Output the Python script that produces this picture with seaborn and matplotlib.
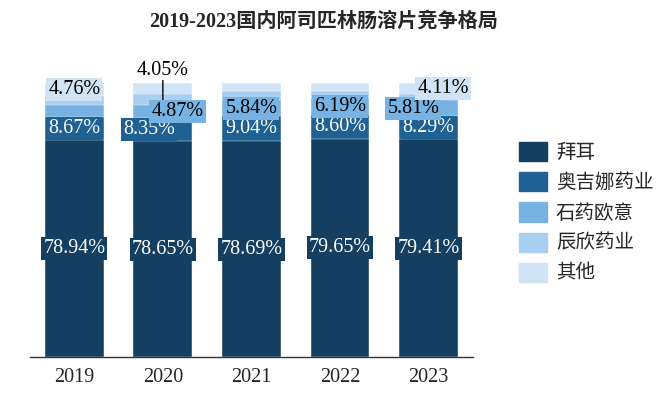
import numpy as np
import matplotlib
matplotlib.use("Agg")
import matplotlib.pyplot as plt
import matplotlib.patches as mpatches
import seaborn as sns

# 数据
years = ["2019", "2020", "2021", "2022", "2023"]
companies = ["拜耳", "奥吉娜药业", "石药欧意", "辰欣药业", "其他"]
bayer = [78.94, 78.65, 78.69, 79.65, 79.41]
aojina = [8.67, 8.35, 9.04, 8.60, 8.29]
shiyao = [4.23, 4.87, 5.84, 6.19, 5.81]
chenxin = [3.40, 4.08, 3.33, 2.36, 2.38]
others = [4.76, 4.05, 3.10, 3.20, 4.11]

colors = ["#143f60", "#1f6192", "#76b3e2", "#a8cfef", "#d0e4f6"]
text_colors = ["white", "white", "black", "black", "black"]

series = [bayer, aojina, shiyao, chenxin, others]

# which labels are shown, and their offsets in points
show = {
    0: [True] * 5,
    1: [True] * 5,
    2: [False, True, True, True, True],
    3: [False] * 5,
    4: [True, False, False, False, True],
}
offsets = {
    (1, 1): (-10, 0),
    (2, 1): (10.5, 0),
    (2, 4): (-11, 0),
    (4, 4): (10.5, 0),
}

num_font = "Liberation Serif"
cjk = ["Liberation Serif", "Noto Sans CJK SC"]

sns.set_style("white")
plt.rcParams["font.family"] = cjk

fig = plt.figure(figsize=(6.71, 3.96), dpi=100)
ax = fig.add_axes([0.0447, 0.0985, 0.660, 0.6927])

cum = np.cumsum(np.array(series), axis=0)
# dibujar de arriba hacia abajo (acumulados)
for i in range(len(series) - 1, -1, -1):
    sns.barplot(x=years, y=cum[i], color=colors[i], saturation=1, width=0.665,
                edgecolor="white", linewidth=0.3, ax=ax)

# etiquetas
for i, vals in enumerate(series):
    bottoms = cum[i] - np.array(vals)
    for j, v in enumerate(vals):
        if not show[i][j]:
            continue
        yc = bottoms[j] + v / 2
        dx, dy = offsets.get((i, j), (0, 0))
        ax.annotate(f"{v:.2f}%", xy=(j, yc), xytext=(dx, dy), textcoords="offset points",
                    ha="center", va="center", fontsize=14.5, family=num_font,
                    color=text_colors[i], zorder=5,
                    bbox=dict(boxstyle="square,pad=0.1", fc=colors[i], ec="none"))

# 2020 其他: label above bar with leader line
ax.annotate("", xy=(1, 91.0), xytext=(1, 101.8),
            arrowprops=dict(arrowstyle="-", color="black", lw=1), zorder=4)
ax.text(1, 104.3, f"{others[1]:.2f}%", ha="center", va="center", fontsize=14.5,
        family=num_font, color="black", zorder=6, clip_on=False)

ax.set_ylim(0, 100)
ax.set_xlim(-0.5, 4.5)
ax.set_yticks([])
ax.set_xlabel("")
ax.set_ylabel("")
for s in ["top", "right", "left"]:
    ax.spines[s].set_visible(False)
ax.spines["bottom"].set_color("#333333")
ax.spines["bottom"].set_linewidth(1.0)
ax.tick_params(axis="x", length=0, pad=8, labelsize=14.5)
for lab in ax.get_xticklabels():
    lab.set_family(num_font)

fig.text(0.482, 0.945, "2019-2023国内阿司匹林肠溶片竞争格局", ha="center", va="center",
         fontsize=14.5, fontweight="bold", family=cjk)

handles = [mpatches.Patch(color=c, label=n) for c, n in zip(colors, companies)]
fig.legend(handles=handles, loc="upper left", bbox_to_anchor=(519 / 671, 1 - 142 / 396),
           frameon=False, handlelength=1.45, handleheight=1.15,
           handletextpad=0.45, labelspacing=0.46, borderpad=0, borderaxespad=0,
           prop={"family": "Noto Sans CJK SC", "size": 14})

fig.savefig("out.png", dpi=100)
